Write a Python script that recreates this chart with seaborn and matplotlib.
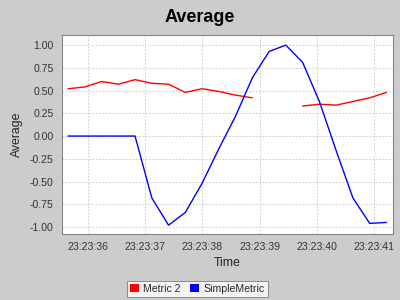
import matplotlib
matplotlib.use("Agg")
import matplotlib.pyplot as plt
import matplotlib.dates as mdates
from matplotlib.patches import Patch
import numpy as np
import pandas as pd
import seaborn as sns

times = ["23:23:35.650", "23:23:35.943", "23:23:36.236", "23:23:36.529", "23:23:36.822",
         "23:23:37.115", "23:23:37.408", "23:23:37.701", "23:23:37.994", "23:23:38.287",
         "23:23:38.580", "23:23:38.873", "23:23:39.166", "23:23:39.459", "23:23:39.752",
         "23:23:40.045", "23:23:40.338", "23:23:40.631", "23:23:40.924", "23:23:41.217"]
metric2 = [0.52, 0.54, 0.60, 0.57, 0.62, 0.58, 0.57, 0.48, 0.52, 0.49,
           0.45, 0.42, np.nan, np.nan, 0.33, 0.35, 0.34, 0.38, 0.42, 0.48]
simple = [0.0, 0.0, 0.0, 0.0, 0.0, -0.68, -0.98, -0.84, -0.52, -0.14,
          0.22, 0.64, 0.93, 1.00, 0.81, 0.38, -0.16, -0.68, -0.96, -0.95]
series_names = ["Metric 2", "SimpleMetric"]
colors = ["#ff0000", "#0000ff"]
yticks = [-1.0, -0.75, -0.5, -0.25, 0.0, 0.25, 0.5, 0.75, 1.0]

t = pd.to_datetime(["2024-01-01 " + s for s in times])
rows = []
for name, vals in zip(series_names, [metric2, simple]):
    seg = 0
    for ti, v in zip(t, vals):
        if np.isnan(v):
            seg += 1
            continue
        rows.append({"Time": ti, "Average": v, "series": name, "seg": seg})
df = pd.DataFrame(rows)

sns.set_style("white")
plt.rcParams['font.family'] = ['Liberation Sans', 'DejaVu Sans']
bg = "#cccccc"
fig = plt.figure(figsize=(4, 3), dpi=100, facecolor=bg)
ax = fig.add_axes([0.155, 0.22, 0.8275, 0.663])
ax.set_facecolor("white")

sns.lineplot(data=df, x="Time", y="Average", hue="series", units="seg", estimator=None,
             palette=dict(zip(series_names, colors)), linewidth=1.0, ax=ax, legend=False)

x0 = pd.Timestamp("2024-01-01 23:23:35.545")
x1 = pd.Timestamp("2024-01-01 23:23:41.332")
ax.set_xlim(x0, x1)
ax.set_ylim(-1.077, 1.11)
ax.set_yticks(yticks)
ax.yaxis.set_major_formatter(matplotlib.ticker.FormatStrFormatter("%.2f"))
ax.xaxis.set_major_locator(mdates.SecondLocator())
ax.xaxis.set_major_formatter(mdates.DateFormatter("%H:%M:%S"))

ax.grid(True, color="#c4c4c4", linestyle=(0, (2, 2)), linewidth=0.6)
for s in ax.spines.values():
    s.set_color("#888888")
    s.set_linewidth(0.8)
ax.tick_params(axis="both", which="major", length=3, width=0.6, color="#888888",
               labelsize=7.6, labelcolor="#333333", direction="out", pad=3)

ax.set_xlabel("Time", fontsize=8.8, color="#222222", labelpad=3)
ax.set_ylabel("Average", fontsize=8.8, color="#222222", labelpad=5)
fig.text(0.5, 0.943, "Average", ha="center", va="center", fontsize=13,
         fontweight="bold", color="black")

handles = [Patch(facecolor=c, edgecolor="none") for c in colors]
leg = fig.legend(handles, series_names, loc="center", bbox_to_anchor=(0.493, 0.037),
                 ncol=2, fontsize=7.6, frameon=True, fancybox=False,
                 handlelength=0.85, handleheight=0.85, handletextpad=0.4, columnspacing=0.9,
                 borderpad=0.3, borderaxespad=0)
leg.get_frame().set_edgecolor("#777777")
leg.get_frame().set_linewidth(0.7)
leg.get_frame().set_facecolor("white")

fig.savefig("out.png", dpi=100, facecolor=bg)
